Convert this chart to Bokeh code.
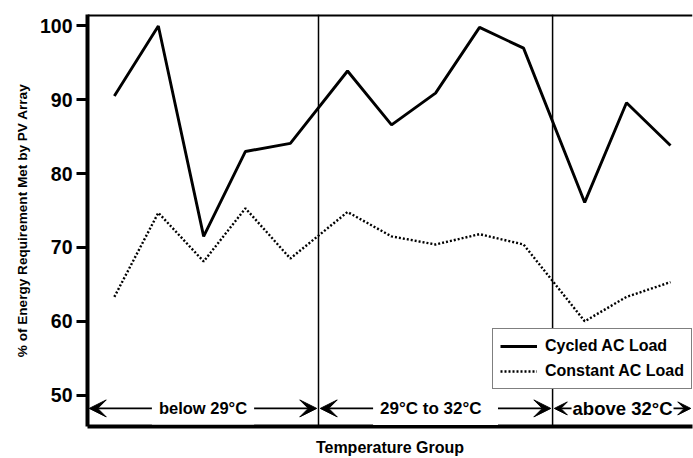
from bokeh.plotting import figure
from bokeh.models import Arrow, VeeHead, Label, Span, FixedTicker, Range1d, Title
from bokeh.embed import file_html
from bokeh.resources import INLINE

# ---- data ----
positions = [0.61, 1.61, 2.64, 3.59, 4.61, 5.91, 6.91, 7.91, 8.91, 9.91, 11.30, 12.25, 13.25]
cycled = [90.5, 100.0, 71.5, 83.0, 84.1, 93.9, 86.6, 90.9, 99.8, 97.0, 76.1, 89.6, 83.8]
constant = [63.3, 74.7, 68.1, 75.3, 68.5, 74.8, 71.5, 70.4, 71.8, 70.4, 60.0, 63.3, 65.3]
group_bounds = [0.0, 5.25, 10.57, 13.75]
group_labels = ["below 29°C", "29°C  to  32°C", "above 32°C"]
y_ticks = [50, 60, 70, 80, 90, 100]

FONT = "Liberation Sans"

p = figure(width=693, height=458, output_backend="svg", toolbar_location=None,
           x_range=Range1d(0, 13.75), y_range=Range1d(45.75, 101.55),
           min_border_left=87, min_border_top=14, min_border_bottom=30, min_border_right=1)
p.outline_line_color = None
p.grid.visible = False
p.background_fill_color = "white"

# axes
p.yaxis.ticker = FixedTicker(ticks=y_ticks)
p.yaxis.axis_line_width = 4
p.yaxis.major_tick_line_width = 3
p.yaxis.major_tick_out = 11
p.yaxis.major_tick_in = 0
p.yaxis.minor_tick_line_color = None
p.yaxis.major_label_text_font = FONT
p.yaxis.major_label_text_font_style = "bold"
p.yaxis.major_label_text_font_size = "19.5px"
p.yaxis.major_label_text_color = "black"
p.yaxis.major_label_standoff = 4

p.xaxis.ticker = FixedTicker(ticks=[])
p.xaxis.axis_line_width = 4
p.xaxis.major_tick_line_color = None
p.xaxis.minor_tick_line_color = None
p.xaxis.major_tick_out = 0
p.xaxis.major_label_text_font_size = "0px"
p.xaxis.axis_label = "Temperature Group"
p.xaxis.axis_label_text_font = FONT
p.xaxis.axis_label_text_font_style = "bold"
p.xaxis.axis_label_text_font_size = "16px"
p.xaxis.axis_label_text_color = "black"
p.xaxis.axis_label_standoff = 12

# y axis title on the left
p.add_layout(Title(text="% of Energy Requirement Met by PV Array", align="center",
                   offset=55, standoff=13, text_font=FONT, text_font_style="bold",
                   text_font_size="13.6px", text_color="black"), "left")

# top border
p.add_layout(Span(location=101.55, dimension="width", line_color="black", line_width=4))

# group dividers
for b in group_bounds[1:-1]:
    p.add_layout(Span(location=b, dimension="height", line_color="black", line_width=1.5))

# series
p.line(positions, cycled, line_color="black", line_width=2.9, legend_label="Cycled AC Load")
p.line(positions, constant, line_color="black", line_width=2.4, line_dash="2 2",
       legend_label="Constant AC Load")

# group arrows and labels
arrow_y = 48.2
head_sizes = [17, 17, 13]
label_sizes = ["16.5px", "17px", "18.5px"]
paddings = [7, 7, 1]
for i, lab in enumerate(group_labels):
    x0 = group_bounds[i] + 0.04
    x1 = group_bounds[i + 1] - 0.04
    hs = head_sizes[i]
    p.add_layout(Arrow(x_start=x0, y_start=arrow_y, x_end=x1, y_end=arrow_y,
                       line_width=1.6, line_color="black",
                       start=VeeHead(size=hs, fill_color="black", line_color="black"),
                       end=VeeHead(size=hs, fill_color="black", line_color="black")))
    p.add_layout(Label(x=(group_bounds[i] + group_bounds[i + 1]) / 2, y=arrow_y, text=lab,
                       text_align="center", text_baseline="middle",
                       text_font=FONT, text_font_style="bold", text_font_size=label_sizes[i],
                       text_color="black", background_fill_color="white",
                       padding=paddings[i]))

# legend
lg = p.legend[0]
lg.location = (405, 37)
lg.border_line_color = "black"
lg.border_line_width = 1.5
lg.background_fill_color = "white"
lg.background_fill_alpha = 1
lg.label_text_font = FONT
lg.label_text_font_style = "bold"
lg.label_text_font_size = "16px"
lg.label_text_color = "black"
lg.glyph_width = 37
lg.glyph_height = 20
lg.label_height = 20
lg.label_standoff = 8
lg.spacing = 5
lg.padding = 7
lg.margin = 0

open("out.html", "w").write(file_html(p, INLINE))
